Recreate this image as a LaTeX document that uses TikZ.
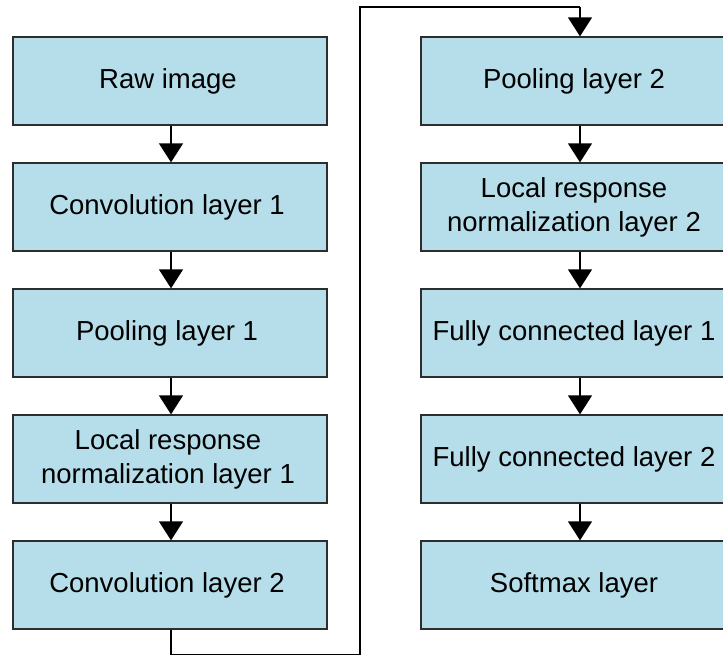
\documentclass[tikz,border=0pt]{standalone}
\usepackage{fontspec}
\setmainfont{Liberation Sans}
\usetikzlibrary{arrows.meta}
\definecolor{boxfill}{RGB}{181,222,234}
\definecolor{boxline}{RGB}{45,45,45}
\tikzset{
  box/.style={draw=boxline, line width=1.3pt, fill=boxfill, minimum height=88pt, inner sep=0pt},
  lbox/.style={box, minimum width=314pt},
  rbox/.style={box, minimum width=318pt},
  lbl/.style={font=\fontsize{27.5}{34}\selectfont, align=center, inner sep=0pt, text=black},
  arr/.style={line width=1.3pt, -{Triangle[width=24pt,length=19pt]}},
  link/.style={line width=1.3pt}
}
\begin{document}
\begin{tikzpicture}[x=1pt,y=-1pt]
\useasboundingbox (0,0) rectangle (723,656);
\clip (0,0) rectangle (723,656);
% left column
\node[lbox] (b1) at (170,81) {};
\node[lbox] (b2) at (170,207) {};
\node[lbox] (b3) at (170,333) {};
\node[lbox] (b4) at (170,459) {};
\node[lbox] (b5) at (170,585) {};
% right column
\node[rbox] (b6) at (580,81) {};
\node[rbox] (b7) at (580,207) {};
\node[rbox] (b8) at (580,333) {};
\node[rbox] (b9) at (580,459) {};
\node[rbox] (b10) at (580,585) {};
% labels
\node[lbl] (t1) at (168,81) {Raw image};
\node[lbl] (t2) at (167,207) {Convolution layer 1};
\node[lbl] (t3) at (167,333) {Pooling layer 1};
\node[lbl] (t4) at (168,459) {Local response\\normalization layer 1};
\node[lbl] (t5) at (167,585) {Convolution layer 2};
\node[lbl] (t6) at (574,81) {Pooling layer 2};
\node[lbl] (t7) at (574,207) {Local response\\normalization layer 2};
\node[lbl] (t8) at (574,333) {Fully connected layer 1};
\node[lbl] (t9) at (574,459) {Fully connected layer 2};
\node[lbl] (t10) at (574,585) {Softmax layer};
% arrows
\draw[arr] ([xshift=1pt]b1.south) -- ([xshift=1pt]b2.north);
\draw[arr] ([xshift=1pt]b2.south) -- ([xshift=1pt]b3.north);
\draw[arr] ([xshift=1pt]b3.south) -- ([xshift=1pt]b4.north);
\draw[arr] ([xshift=1pt]b4.south) -- ([xshift=1pt]b5.north);
\draw[arr] (b6.south) -- (b7.north);
\draw[arr] (b7.south) -- (b8.north);
\draw[arr] (b8.south) -- (b9.north);
\draw[arr] (b9.south) -- (b10.north);
% loop connector
\coordinate (c1) at (171,654.5);
\coordinate (c2) at (360,654.5);
\coordinate (c3) at (360,7);
\coordinate (c4) at (580,7);
\draw[link] ([xshift=1pt]b5.south) -- (c1) -- (c2) -- (c3) -- (c4);
\draw[arr] (c4) -- (b6.north);
\end{tikzpicture}
\end{document}
